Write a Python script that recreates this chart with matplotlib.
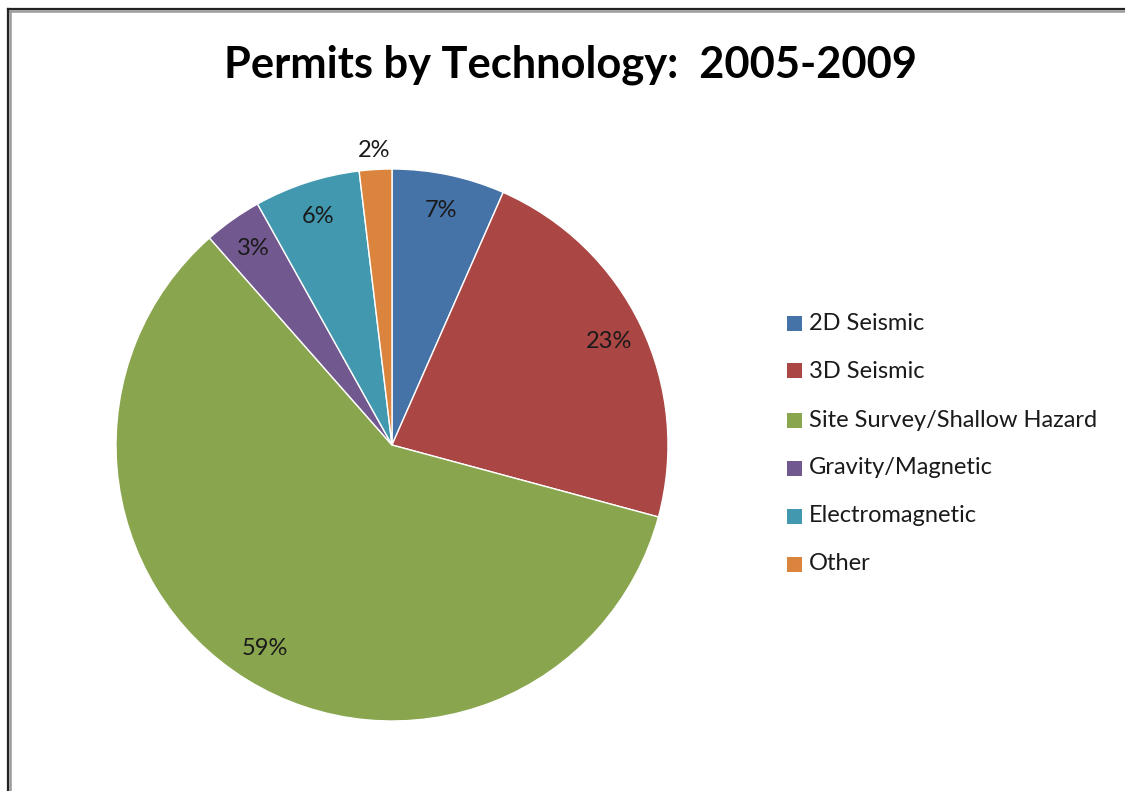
import matplotlib
matplotlib.use("Agg")
import matplotlib.pyplot as plt
from matplotlib.lines import Line2D
from matplotlib.patches import Rectangle
import numpy as np

plt.rcParams['font.family'] = ['Lato', 'DejaVu Sans']

categories = ["2D Seismic", "3D Seismic", "Site Survey/Shallow Hazard",
              "Gravity/Magnetic", "Electromagnetic", "Other"]
shares = [6.6, 22.6, 59.3, 3.4, 6.2, 1.9]
colors = ["#4572A7", "#AA4643", "#89A54E", "#71588F", "#4198AF", "#DB843D"]
title = "Permits by Technology:  2005-2009"

W, H = 1125, 791
fig = plt.figure(figsize=(W / 100, H / 100), dpi=100)
fig.patch.set_facecolor("white")

cx, cy, R = 392, 445, 276
ax = fig.add_axes([(cx - R) / W, (H - cy - R) / H, 2 * R / W, 2 * R / H])

wedges, texts, autotexts = ax.pie(
    shares, colors=colors, startangle=90, counterclock=False,
    autopct="%.0f%%", pctdistance=0.87, radius=1,
    wedgeprops=dict(edgecolor="white", linewidth=1),
    textprops=dict(fontsize=17, color="#1a1a1a"))
ax.set_xlim(-1, 1)
ax.set_ylim(-1, 1)
ax.set_aspect("auto")
ax.axis("off")
# small slice label outside
w = wedges[-1]
ang = np.deg2rad((w.theta1 + w.theta2) / 2)
autotexts[-1].set_position((1.07 * np.cos(ang), 1.07 * np.sin(ang)))

fig.text(571 / W, 1 - 65 / H, title, ha="center", va="center",
         fontsize=31.2, fontweight="bold", color="black")

# legend
rows_y = [323, 371, 420, 468, 516, 564]
for lab, col, y in zip(categories, colors, rows_y):
    fig.add_artist(Rectangle((787 / W, 1 - (y + 7.5) / H), 15 / W, 15 / H,
                             transform=fig.transFigure, facecolor=col,
                             edgecolor="none"))
    fig.text(809 / W, 1 - y / H, lab, ha="left", va="center",
             fontsize=17, color="#1a1a1a")

# frame lines (top and left)
fig.add_artist(Line2D([8 / W, 1.0], [1 - 9 / H, 1 - 9 / H], color="#222222",
                      lw=1.6, transform=fig.transFigure))
fig.add_artist(Line2D([8 / W, 1.0], [1 - 11 / H, 1 - 11 / H], color="#9a9a9a",
                      lw=1.8, transform=fig.transFigure))
fig.add_artist(Line2D([8 / W, 8 / W], [1 - 9 / H, 0], color="#222222",
                      lw=1.6, transform=fig.transFigure))
fig.add_artist(Line2D([10 / W, 10 / W], [1 - 11 / H, 0], color="#9a9a9a",
                      lw=1.8, transform=fig.transFigure))

fig.savefig("out.png", dpi=100)
